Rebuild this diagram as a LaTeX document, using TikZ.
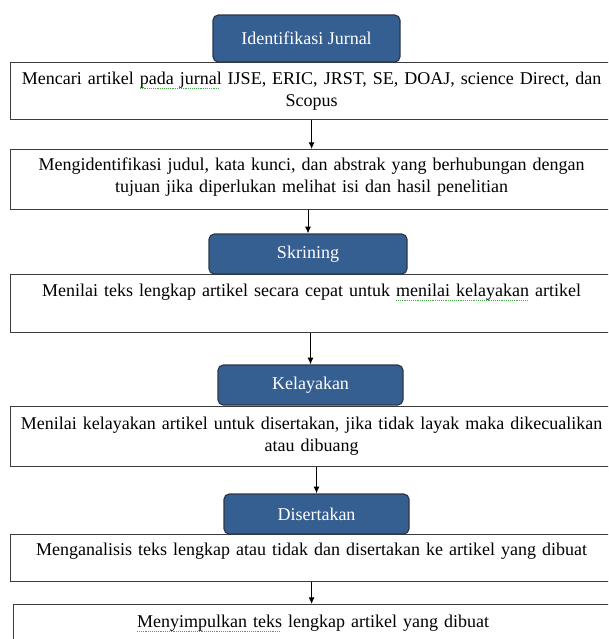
\documentclass[tikz,border=0pt]{standalone}
\usepackage{fontspec}
\setmainfont{Liberation Serif}
\usepackage{tikz}
\usetikzlibrary{arrows.meta}

\definecolor{headblue}{RGB}{54,95,145}
\definecolor{headline}{RGB}{45,55,72}
\definecolor{boxline}{RGB}{60,60,60}
\definecolor{spellgreen}{RGB}{70,170,70}
\newcommand{\spellmark}[1]{\setbox0\hbox{#1}\rlap{\raisebox{-0.45ex}{\textcolor{spellgreen}{\leaders\hbox{\rule{0.7pt}{0.5pt}\kern0.7pt}\hskip\wd0\relax}}}\box0\relax}

\tikzset{
  stepbox/.style={draw=boxline, line width=0.9pt, fill=white, inner sep=0pt,
    text width=451.5pt, align=center, anchor=north west,
    font=\fontsize{13.5}{16.5}\selectfont, text height=16.5pt},
  headbox/.style={draw=headline, fill=headblue, rounded corners=4pt, line width=0.9pt,
    text=white, font=\fontsize{13.5}{15}\selectfont, minimum height=30pt},
  flow/.style={-{Latex[length=5pt,width=4.5pt]}, line width=0.75pt}
}

\begin{document}
\begin{tikzpicture}[x=0.75pt,y=0.75pt,yscale=-1,xscale=1]
\useasboundingbox (0,0) rectangle (608,639);
\clip (0,0) rectangle (608,639);

%Shape: Rectangle [id:box1]
\node [stepbox, text depth=26.25pt] (box1) at (10,62) {Mencari artikel \spellmark{pada jurnal} IJSE, ERIC, JRST, SE, DOAJ, science Direct, dan\\ Scopus};
%Shape: Rectangle [id:box2]
\node [stepbox, text height=15.75pt, text depth=29.25pt] (box2) at (10,149) {Mengidentifikasi judul, kata kunci, dan abstrak yang berhubungan dengan\\ tujuan jika diperlukan melihat isi dan hasil penelitian};
%Shape: Rectangle [id:box3]
\node [stepbox, text depth=27pt] (box3) at (10,274) {Menilai teks lengkap artikel secara cepat untuk \spellmark{menilai kelayakan} artikel};
%Shape: Rectangle [id:box4]
\node [stepbox, text height=17.25pt, text depth=28.25pt] (box4) at (10,405.5) {Menilai kelayakan artikel untuk disertakan, jika tidak layak maka dikecualikan\\ atau dibuang};
%Shape: Rectangle [id:box5]
\node [stepbox, text height=15.75pt, text depth=19.5pt] (box5) at (10,534) {Menganalisis teks lengkap atau tidak dan disertakan ke artikel yang dibuat};
%Shape: Rectangle [id:box6]
\node [stepbox, text width=449.25pt, text height=17.25pt, text depth=30pt] (box6) at (13,604) {\spellmark{Menyimpulkan teks} lengkap artikel yang dibuat};

% Header Node
\node [headbox, minimum width=140.25pt, minimum height=35.25pt] (head1) at (306.5,38.5) {Identifikasi Jurnal};
% Header Node
\node [headbox, minimum width=148.5pt] (head2) at (308,254) {Skrining};
% Header Node
\node [headbox, minimum width=138.75pt] (head3) at (310.5,385) {Kelayakan};
% Header Node
\node [headbox, minimum width=138.75pt] (head4) at (316.5,514) {Disertakan};

%Straight Lines
\draw [flow] (box1.south) -- (box2.north);
\draw [flow] (box2.south -| head2) -- (head2.north);
\draw [flow] (box3.south -| head3) -- (head3.north);
\draw [flow] (box4.south -| head4) -- (head4.north);
\draw [flow] (box5.south) -- (box5.south |- box6.north);
\end{tikzpicture}
\end{document}
